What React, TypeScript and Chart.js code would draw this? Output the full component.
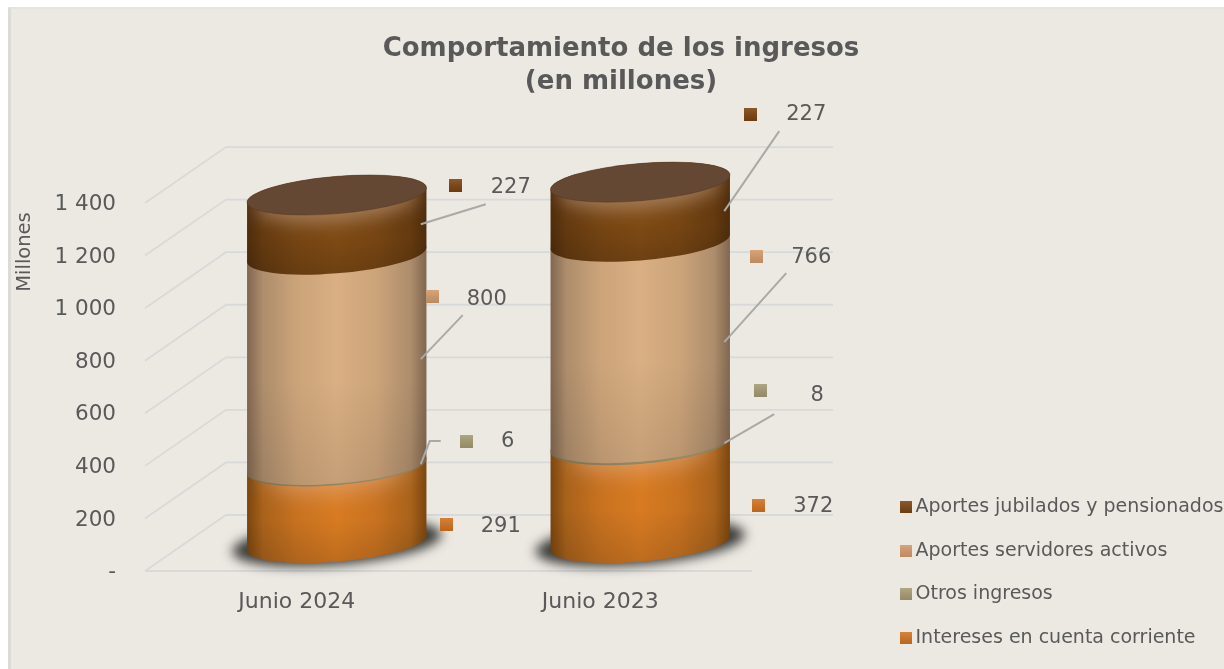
import React, { useEffect, useRef } from "react";
import { Chart, registerables } from "chart.js";

Chart.register(...registerables);

const categories = ["Junio 2024", "Junio 2023"];
const seriesNames = ["Intereses en cuenta corriente", "Otros ingresos", "Aportes servidores activos", "Aportes jubilados y pensionados"];
const intereses = [291, 372];
const otros = [6, 8];
const servidores = [800, 766];
const jubilados = [227, 227];
const yTicks = [0, 200, 400, 600, 800, 1000, 1200, 1400];

const FONT = "'DejaVu Sans', Verdana, sans-serif";
const TEXT = "#595959";
const GRID = "#D8D9D9";
const DEPTH_X = 81;
const DEPTH_Y = -56;
const MID_X = 40;
const MID_Y = -28;
const ROT = -0.084;
const RX = 90;
const RY = 18.6;

const palette = [
  { key: "#D2721F", center: "#D87B22", near: "#C87220", mid: "#A9621B", edge: "#7A4510" },
  { key: "#A59A72", center: "#A59A72", near: "#9C9169", mid: "#8A7F5E", edge: "#6E6549" },
  { key: "#D49A6A", center: "#D9AF83", near: "#CCA47A", mid: "#AD8D6C", edge: "#806650" },
  { key: "#7B4310", center: "#7E4A14", near: "#764513", mid: "#643A10", edge: "#4E2C0C" },
];

type Lay = { sq: number[]; txt: number[]; lead?: number[][] };
const labelLayout: Lay[][] = [
  [
    { sq: [150, -8.7], txt: [204, -6.7] },
    { sq: [158, -17], txt: [213, -16] },
  ],
  [
    { sq: [170, -52.7], txt: [211, -51.7], lead: [[144, -52.7], [133, -52.7], [124, -29.7]] },
    { sq: [160, -82], txt: [217, -77], lead: [[174, -58], [124, -29]] },
  ],
  [
    { sq: [136, -91.7], txt: [190, -88.7], lead: [[166, -72.7], [124, -28.7]] },
    { sq: [156, -114.3], txt: [211, -113.3], lead: [[186, -97.3], [124, -28.3]] },
  ],
  [
    { sq: [159, -67.6], txt: [214, -65.6], lead: [[189, -48.6], [124, -28.6]] },
    { sq: [150, -125.8], txt: [206, -125.8], lead: [[179, -108.8], [124, -28.8]] },
  ],
];

function keyImage(color: string, size: number) {
  const c = document.createElement("canvas");
  c.width = size;
  c.height = size;
  const g = c.getContext("2d")!;
  g.fillStyle = color;
  g.fillRect(0, 0, size, size);
  const o = g.createLinearGradient(0, 0, 0, size);
  o.addColorStop(0, "rgba(255,255,255,0.12)");
  o.addColorStop(1, "rgba(0,0,0,0.10)");
  g.fillStyle = o;
  g.fillRect(0, 0, size, size);
  return c;
}

function bodyPath(ctx: CanvasRenderingContext2D, cx: number, yBase: number, yTop: number) {
  const t0 = Math.atan2(-RY * Math.sin(ROT), RX * Math.cos(ROT));
  ctx.beginPath();
  ctx.ellipse(cx, yBase, RX, RY, ROT, t0, t0 + Math.PI, false);
  ctx.ellipse(cx, yTop, RX, RY, ROT, t0 + Math.PI, t0 + 2 * Math.PI, false);
  ctx.closePath();
}

const sceneryPlugin = {
  id: "scenery",
  beforeLayout(chart: any) {
    const l = chart.legend;
    if (l && !l.__fitWrapped) {
      const fit = l.fit.bind(l);
      l.fit = function () {
        fit();
        this.width = 490;
      };
      l.__fitWrapped = true;
    }
  },
  afterLayout(chart: any) {
    const l = chart.legend;
    if (!l) return;
    const pad = l.options.labels.padding;
    l.left = 905 - pad;
    l.right = 1242;
    l.top = 497.5 - pad;
    l.bottom = 2000;
  },
  beforeDatasetsDraw(chart: any) {
    const { ctx, scales } = chart;
    const y = scales.y;
    const x = scales.x;
    ctx.save();
    ctx.strokeStyle = GRID;
    ctx.lineWidth = 1.8;
    yTicks.forEach((v) => {
      const py = y.getPixelForValue(v);
      ctx.beginPath();
      ctx.moveTo(x.left, py);
      ctx.lineTo(x.left + DEPTH_X, py + DEPTH_Y);
      ctx.lineTo(x.right + DEPTH_X, py + DEPTH_Y);
      ctx.stroke();
    });
    const p0 = y.getPixelForValue(0);
    ctx.beginPath();
    ctx.moveTo(x.left, p0);
    ctx.lineTo(x.right, p0);
    ctx.stroke();
    // axis title
    ctx.save();
    ctx.translate(25, 252);
    ctx.rotate(-Math.PI / 2);
    ctx.font = `19.5px ${FONT}`;
    ctx.fillStyle = TEXT;
    ctx.textAlign = "center";
    ctx.textBaseline = "middle";
    ctx.fillText("Millones", 0, 0);
    ctx.restore();
    ctx.restore();
  },
  afterDatasetsDraw(chart: any) {
    const { ctx } = chart;
    const metas = chart.data.datasets.map((_: any, i: number) => chart.getDatasetMeta(i));
    categories.forEach((_, idx) => {
      const first = metas[0].data[idx];
      const cx = first.x + MID_X;
      const yBase = first.base + MID_Y;
      // base shadow
      ctx.save();
      ctx.filter = "blur(6px)";
      ctx.fillStyle = "#3A3A37";
      ctx.beginPath();
      ctx.ellipse(cx, yBase, RX + 15, RY + 3, ROT, 0, Math.PI * 2);
      ctx.fill();
      ctx.restore();

      metas.forEach((m: any, s: number) => {
        const el = m.data[idx];
        const yB = el.base + MID_Y;
        const yT = el.y + MID_Y;
        const c = palette[s];
        ctx.save();
        bodyPath(ctx, cx, yB, yT);
        const g = ctx.createLinearGradient(cx - RX, 0, cx + RX, 0);
        g.addColorStop(0, c.edge);
        g.addColorStop(0.09, c.mid);
        g.addColorStop(0.28, c.near);
        g.addColorStop(0.5, c.center);
        g.addColorStop(0.72, c.near);
        g.addColorStop(0.91, c.mid);
        g.addColorStop(1, c.edge);
        ctx.fillStyle = g;
        ctx.fill();
        ctx.clip();
        const h = ctx.createLinearGradient(0, yT, 0, yB + 18);
        h.addColorStop(0, "rgba(0,0,0,0)");
        h.addColorStop(0.55, "rgba(0,0,0,0)");
        h.addColorStop(1, s === 2 ? "rgba(0,0,0,0.09)" : "rgba(0,0,0,0.12)");
        ctx.fillStyle = h;
        ctx.fillRect(cx - RX - 2, yT - RY - 10, 2 * RX + 4, yB - yT + 2 * RY + 20);
        if (s === 3 || s === 0) {
          // soft light under the upper rim, following the tilt of the ellipse
          ctx.filter = s === 3 ? "blur(9px)" : "blur(11px)";
          ctx.fillStyle = s === 3 ? "rgba(205,175,155,0.5)" : "rgba(235,195,175,0.42)";
          ctx.beginPath();
          ctx.ellipse(cx, yT + 6, s === 3 ? RX - 8 : RX - 18, RY + 2, ROT, 0, Math.PI * 2);
          ctx.fill();
          ctx.filter = "none";
        }
        ctx.restore();
      });

      const top = metas[metas.length - 1].data[idx];
      const capY = top.y + MID_Y;
      ctx.save();
      ctx.fillStyle = "#644833";
      ctx.beginPath();
      ctx.ellipse(cx, capY, RX, RY, ROT, 0, Math.PI * 2);
      ctx.fill();
      ctx.strokeStyle = "rgba(90,56,30,0.5)";
      ctx.lineWidth = 1;
      ctx.stroke();
      ctx.restore();
    });

    // leader lines, keys, values
    metas.forEach((m: any, s: number) => {
      const key = keyImage(palette[s].key, 13);
      m.data.forEach((el: any, idx: number) => {
        const ax = el.x;
        const ay = (el.y + el.base) / 2;
        const lay = labelLayout[s][idx];
        ctx.save();
        if (lay.lead) {
          ctx.strokeStyle = "#A9A9A7";
          ctx.lineWidth = 2;
          ctx.beginPath();
          lay.lead.forEach((p, i) => {
            if (i === 0) ctx.moveTo(ax + p[0], ay + p[1]);
            else ctx.lineTo(ax + p[0], ay + p[1]);
          });
          ctx.stroke();
        }
        ctx.drawImage(key, ax + lay.sq[0] - 6.5, ay + lay.sq[1] - 6.5);
        ctx.font = `21px ${FONT}`;
        ctx.fillStyle = TEXT;
        ctx.textAlign = "center";
        ctx.textBaseline = "middle";
        ctx.fillText(String(chart.data.datasets[s].data[idx]), ax + lay.txt[0], ay + lay.txt[1]);
        ctx.restore();
      });
    });
  },
};

export default function App() {
  const ref = useRef<HTMLCanvasElement>(null);
  useEffect(() => {
    const datasets = [intereses, otros, servidores, jubilados].map((data, i) => ({
      label: seriesNames[i],
      data,
      backgroundColor: "rgba(0,0,0,0)",
      borderWidth: 0,
      stack: "s",
      barPercentage: 179 / 303.5,
      categoryPercentage: 1,
    }));
    const chart = new Chart(ref.current!, {
      type: "bar",
      data: { labels: categories, datasets },
      plugins: [sceneryPlugin],
      options: {
        responsive: false,
        animation: false,
        layout: { padding: 0 },
        scales: {
          x: {
            stacked: true,
            grid: { display: false },
            border: { display: false },
            afterFit: (s: any) => { s.height = 98; },
            ticks: { color: TEXT, font: { family: FONT, size: 22 }, padding: 10, maxRotation: 0 },
          },
          y: {
            stacked: true,
            min: 0,
            max: 1400,
            grid: { display: false },
            border: { display: false },
            afterFit: (s: any) => { s.width = 145; },
            ticks: {
              stepSize: 200,
              color: TEXT,
              font: { family: FONT, size: 21.5 },
              padding: 21,
              labelOffset: 1.5,
              callback: (v: any) => (v === 0 ? "-" : String(v).replace(/\B(?=(\d{3})+$)/g, " ")),
            },
          },
        },
        plugins: {
          tooltip: { enabled: false },
          title: {
            display: true,
            text: ["Comportamiento de los ingresos", "(en millones)"],
            color: TEXT,
            font: { family: FONT, size: 26, weight: "bold", lineHeight: 1.27 },
            padding: { top: 33, bottom: 104 },
          },
          legend: {
            display: true,
            position: "right",
            align: "start",
            reverse: true,
            labels: {
              usePointStyle: true,
              boxWidth: 1,
              boxHeight: 10,
              padding: 24.7,
              color: TEXT,
              font: { family: FONT, size: 19 },
              generateLabels: (c: any) =>
                Chart.defaults.plugins.legend.labels.generateLabels(c).map((it: any, i: number) => ({
                  ...it,
                  pointStyle: keyImage(palette[i].key, 12),
                })),
            },
          },
        },
      } as any,
    } as any);
    return () => chart.destroy();
  }, []);
  return (
    <div style={{ position: "fixed", left: 0, top: 0, width: 1224, height: 669, overflow: "hidden", background: "#FFFFFF" }}>
      <div style={{ position: "absolute", left: 8, top: 7, right: 0, bottom: 0, background: "#ECE9E3", borderLeft: "3px solid #DDDBD6", borderTop: "2px solid #E6E4DF" }} />
      <canvas
        ref={ref}
        width={1242}
        height={669}
        style={{ position: "absolute", left: 0, top: 0, display: "block", filter: "blur(0.6px)" }}
      />
    </div>
  );
}
